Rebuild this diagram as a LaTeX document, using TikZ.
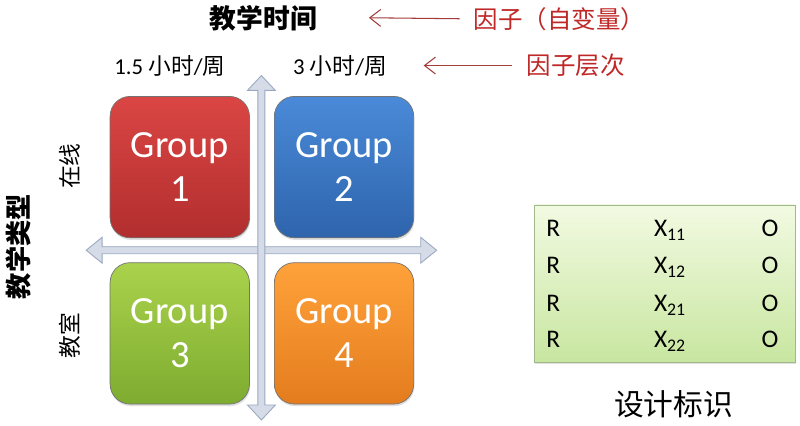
\documentclass[tikz,border=0pt]{standalone}
\usepackage{fontspec}
\setmainfont{Carlito}
\newfontfamily\cjk{Noto Sans CJK SC}
\usetikzlibrary{arrows.meta,shadows}
\definecolor{axisfill}{RGB}{213,220,232}
\definecolor{axisline}{RGB}{154,168,192}
\definecolor{notered}{RGB}{192,40,40}
\definecolor{notearrow}{RGB}{165,60,60}
\begin{document}
\begin{tikzpicture}[x=0.02cm,y=-0.02cm,
	grp/.style={draw=black!55, rounded corners=0.4cm, minimum width=2.8cm, minimum height=2.84cm,
		align=center, text=white, font=\fontsize{22}{25}\selectfont,
		drop shadow={opacity=0.25, shadow xshift=0.4pt, shadow yshift=-1.2pt}},
	axis/.style={fill=axisfill, draw=axisline, line width=0.5pt},
	note/.style={anchor=west, inner xsep=0.28cm, inner ysep=0, text=notered, font=\cjk\fontsize{14}{16}\selectfont},
	lvl/.style={font=\fontsize{13}{15}\selectfont, inner sep=0},
	cell/.style={anchor=base west, inner sep=0, font=\fontsize{14.5}{16}\selectfont}]
	\fill[white] (0,0) rectangle (800,424);
	% axes
	\draw[axis] (83,247.5) -- (99,234.5) -- (99,244) -- (419,244) -- (419,234.5) -- (435,247.5)
		-- (419,260.5) -- (419,251) -- (99,251) -- (99,260.5) -- cycle;
	\draw[axis] (259,72) -- (273,87) -- (262.5,87) -- (262.5,403) -- (273,403) -- (259,418)
		-- (245,403) -- (255.5,403) -- (255.5,87) -- (245,87) -- cycle;
	% groups
	\node[grp, top color={rgb,255:red,218;green,70;blue,68}, bottom color={rgb,255:red,178;green,46;blue,46}] (g1) at (177,164) {Group\\1};
	\node[grp, top color={rgb,255:red,74;green,138;blue,216}, bottom color={rgb,255:red,46;green,100;blue,172}] (g2) at (342,164) {Group\\2};
	\node[grp, top color={rgb,255:red,170;green,210;blue,76}, bottom color={rgb,255:red,126;green,172;blue,48}] (g3) at (177,331) {Group\\3};
	\node[grp, top color={rgb,255:red,255;green,162;blue,58}, bottom color={rgb,255:red,228;green,124;blue,30}] (g4) at (342,331) {Group\\4};
	% factor labels
	\node[font=\cjk\bfseries\fontsize{15.3}{17}\selectfont] (time) at (261,15) {教学时间};
	\node[lvl] (low) at (167,62) {1.5 {\cjk 小时}/{\cjk 周}};
	\node[lvl] (high) at (338,62) {3 {\cjk 小时}/{\cjk 周}};
	\node[rotate=90, font=\cjk\bfseries\fontsize{15}{17}\selectfont] (type) at (15,244) {教学类型};
	\node[rotate=90, font=\cjk\fontsize{13}{15}\selectfont] (online) at (67,163) {在线};
	\node[rotate=90, font=\cjk\fontsize{13}{15}\selectfont] (room) at (67,333) {教室};
	\node[note] (fac) at (458,15) {因子（自变量）};
	\node[note] (lev) at (511,62) {因子层次};
	\coordinate (facend) at (367,14);
	\coordinate (levend) at (422,62);
	\draw[notearrow, line width=0.6pt, -{Straight Barb[length=2.2mm, width=3.4mm]}] (fac.west) -- (facend);
	\draw[notearrow, line width=0.6pt, -{Straight Barb[length=2.2mm, width=3.4mm]}] (lev.west) -- (levend);
	% notation
	\node[draw={rgb,255:red,160;green,184;blue,140}, minimum width=5.24cm, minimum height=3.16cm,
		top color={rgb,255:red,242;green,250;blue,226}, bottom color={rgb,255:red,200;green,230;blue,160},
		drop shadow={opacity=0.25, shadow xshift=0.4pt, shadow yshift=-1.2pt}] (box) at (664,281) {};
	\foreach \i/\s/\yy in {1/11/234, 2/12/271, 3/21/309, 4/22/345} {
		\node[cell] (r\i) at (545,\yy) {R};
		\node[cell] (x\i) at (653,\yy) {X\textsubscript{\s}};
		\node[cell] (o\i) at (761,\yy) {O};
	}
	\node[font=\cjk\fontsize{17}{19}\selectfont] (mark) at (673,402) {设计标识};
\end{tikzpicture}
\end{document}
